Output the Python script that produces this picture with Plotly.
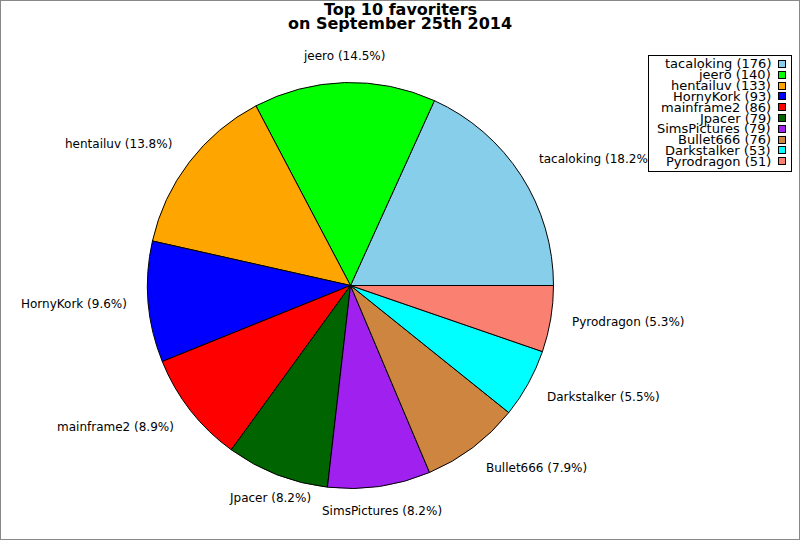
import math
import plotly.graph_objects as go

names = ["tacaloking", "jeero", "hentailuv", "HornyKork", "mainframe2",
         "Jpacer", "SimsPictures", "Bullet666", "Darkstalker", "Pyrodragon"]
counts = [176, 140, 133, 93, 86, 79, 79, 76, 53, 51]
colors = ["#87CEEB", "#00FF00", "#FFA500", "#0000FF", "#FF0000",
          "#006400", "#A020F0", "#CD853F", "#00FFFF", "#FA8072"]
title_lines = ["Top 10 favoriters", "on September 25th 2014"]

W, H = 800, 540
total = sum(counts)
labels_txt = [f"{n} ({c / total * 100:.1f}%)" for n, c in zip(names, counts)]

cx, cy, R = 350.5, 285.5, 203
fig = go.Figure(go.Pie(
    labels=names, values=counts, sort=False, direction="counterclockwise",
    rotation=90 - 360 * counts[0] / total,
    textinfo="none",
    marker=dict(colors=colors, line=dict(color="black", width=1)),
    domain=dict(x=[(cx - R) / W, (cx + R) / W], y=[1 - (cy + R) / H, 1 - (cy - R) / H]),
    showlegend=False, hoverinfo="label+value+percent",
))

annotations = []
# slice labels at 1.1 radius along each slice's mid angle
cum = 0
for txt, c in zip(labels_txt, counts):
    ang = math.radians(360 * (cum + c / 2) / total)
    cum += c
    co, si = math.cos(ang), math.sin(ang)
    px, py = cx + 1.1 * R * co, cy - 1.1 * R * si
    xa = "left" if co > 0.5 else ("right" if co < -0.5 else "center")
    ys = 6 if si > 0.3 else (-4 if si < -0.3 else 0)
    annotations.append(dict(xref="paper", yref="paper", x=px / W, y=1 - py / H,
                            xanchor=xa, yanchor="middle", yshift=ys, showarrow=False,
                            borderpad=0, text=txt,
                            font=dict(family="DejaVu Sans", size=12, color="black")))

# legend box (drawn over slice labels)
lx0, lx1, ly0, ly1 = 648, 791, 55, 171
annotations.append(dict(xref="paper", yref="paper", x=lx0 / W, y=1 - ly0 / H,
                        xanchor="left", yanchor="top", showarrow=False, text=" ",
                        width=lx1 - lx0 - 1, height=ly1 - ly0 - 1, borderpad=0,
                        bgcolor="white", bordercolor="black", borderwidth=1))
top, step = 64, 10.8
for i, (n, c, col) in enumerate(zip(names, counts, colors)):
    yc = top + i * step
    annotations.append(dict(xref="paper", yref="paper", x=772 / W, y=1 - yc / H,
                            xanchor="right", yanchor="middle", showarrow=False,
                            borderpad=0, text=f"{n} ({c})",
                            font=dict(family="DejaVu Sans", size=13, color="black")))
    annotations.append(dict(xref="paper", yref="paper", x=778 / W, y=1 - yc / H,
                            xanchor="left", yanchor="middle", showarrow=False,
                            text=" ", width=6, height=6, borderpad=0,
                            font=dict(size=4), bgcolor=col,
                            bordercolor="black", borderwidth=1))

# title (two tight lines)
for t, ty in zip(title_lines, [10, 24]):
    annotations.append(dict(xref="paper", yref="paper", x=0.5, y=1 - ty / H,
                            xanchor="center", yanchor="middle", showarrow=False,
                            borderpad=0, text=f"<b>{t}</b>",
                            font=dict(family="DejaVu Sans", size=16, color="black")))

shapes = [dict(type="rect", xref="paper", yref="paper", x0=0, x1=1, y0=0, y1=1,
               line=dict(color="#888888", width=2))]

fig.update_layout(
    width=W, height=H, margin=dict(l=0, r=0, t=0, b=0),
    paper_bgcolor="white", plot_bgcolor="white",
    shapes=shapes, annotations=annotations,
)
fig.write_html("out.html", config={"displayModeBar": False},
               post_script="document.body.style.margin='0';document.body.style.overflow='hidden';")
